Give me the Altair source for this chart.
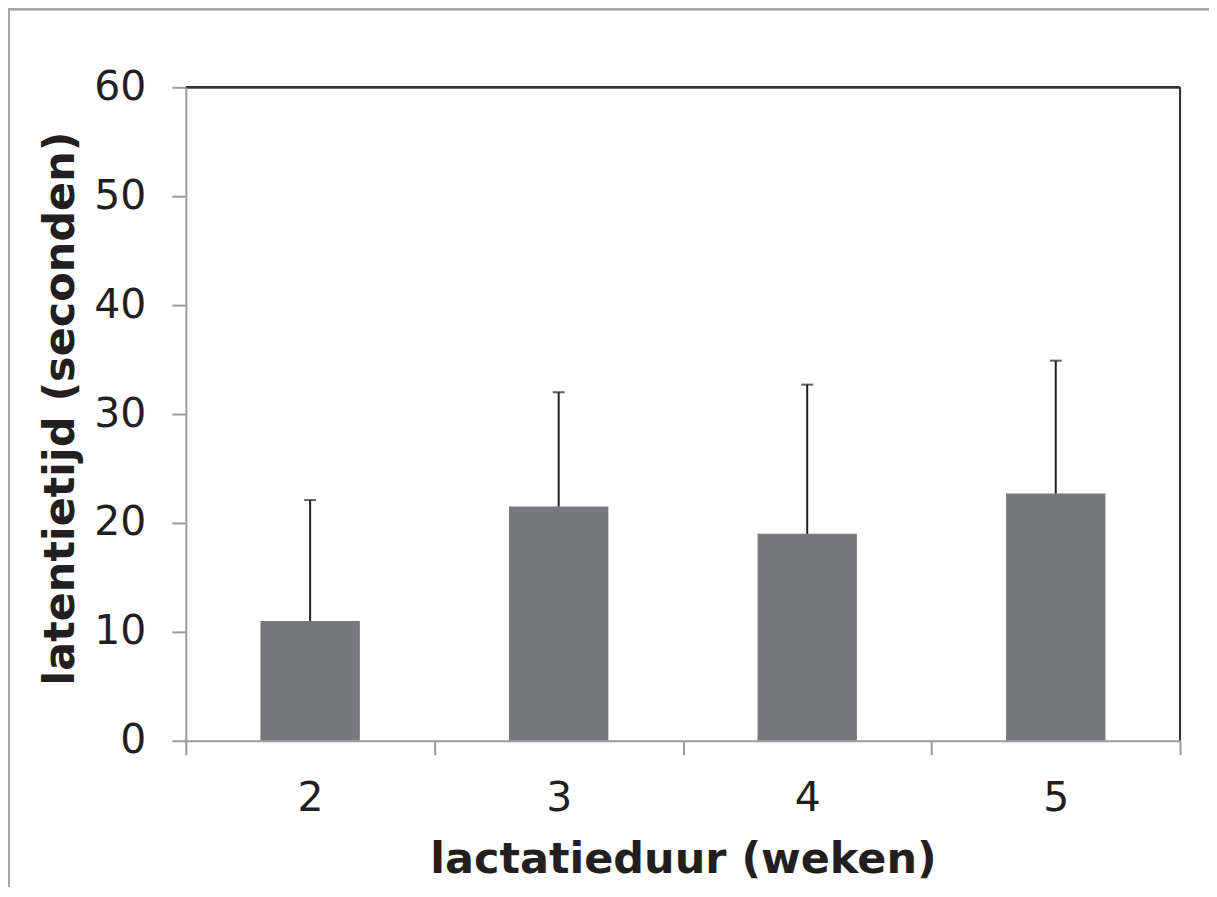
import altair as alt
import pandas as pd

weeks = ["2", "3", "4", "5"]
means = [11.0, 21.5, 19.0, 22.7]
errors = [11.1, 10.5, 13.7, 12.2]
y_ticks = [0, 10, 20, 30, 40, 50, 60]

df = pd.DataFrame({"week": weeks, "mean": means, "err": errors})

FONT = "DejaVu Sans"
DARK = "#231f20"
GRAY = "#9b9b9b"
W, H = 995, 654

x_enc = alt.X(
    "week:N",
    sort=weeks,
    scale=alt.Scale(paddingInner=0, paddingOuter=0),
    axis=alt.Axis(
        title="lactatieduur (weken)",
        labelAngle=0,
        labelFont=FONT, labelFontSize=41, labelColor=DARK, labelPadding=24,
        tickBand="extent", tickSize=14, tickColor=GRAY, tickWidth=2,
        domainColor=GRAY, domainWidth=2,
        titleFont=FONT, titleFontSize=43, titleFontWeight="bold", titleColor=DARK,
        titleX=W / 2, titleY=132, titleBaseline="alphabetic", titleAlign="center",
        zindex=1,
    ),
)

y_scale = alt.Scale(domain=[0, 60], nice=False, zero=True)
y_axis = alt.Axis(
    title="latentietijd (seconden)",
    values=y_ticks,
    labelFont=FONT, labelFontSize=41, labelColor=DARK, labelPadding=26,
    tickSize=14, tickColor=GRAY, tickWidth=2,
    domainColor=GRAY, domainWidth=2, grid=False,
    titleFont=FONT, titleFontSize=43, titleFontWeight="bold", titleColor=DARK,
    titleAngle=270, titleX=-112, titleY=321, titleBaseline="alphabetic", titleAlign="center",
    zindex=1,
)

base = alt.Chart(df).transform_calculate(upper="datum.mean + datum.err")

bars = base.mark_bar(color="#77787b", width={"band": 0.4}).encode(
    x=x_enc,
    y=alt.Y("mean:Q", scale=y_scale, axis=y_axis),
)

rules = base.mark_rule(color=DARK, strokeWidth=2).encode(
    x=alt.X("week:N", sort=weeks),
    y=alt.Y("mean:Q"),
    y2="upper:Q",
)

caps = base.mark_tick(color=DARK, thickness=2, size=12, orient="horizontal").encode(
    x=alt.X("week:N", sort=weeks),
    y=alt.Y("upper:Q"),
)

border = alt.Chart(df).mark_rect(fill=None, stroke="#a6a6a6", strokeWidth=2).encode(
    x=alt.value(-177),
    x2=alt.value(1206 - 178),
    y=alt.value(-78),
    y2=alt.value(900),
)

frame_top = alt.Chart(df).mark_rule(color="#333333", strokeWidth=2).encode(
    x=alt.value(0), x2=alt.value(W), y=alt.value(0)
)
frame_right = alt.Chart(df).mark_rule(color="#333333", strokeWidth=2).encode(
    x=alt.value(W), y=alt.value(0), y2=alt.value(H)
)

chart = (
    alt.layer(border, frame_top, frame_right, bars, rules, caps)
    .properties(
        width=W,
        height=H,
        padding={"left": 178, "top": 79, "right": 29, "bottom": 146},
        autosize=alt.AutoSizeParams(type="none"),
    )
    .configure_view(stroke=None)
    .configure(background="white")
)

chart.save("out.html", embed_options={"renderer": "svg", "actions": False})
